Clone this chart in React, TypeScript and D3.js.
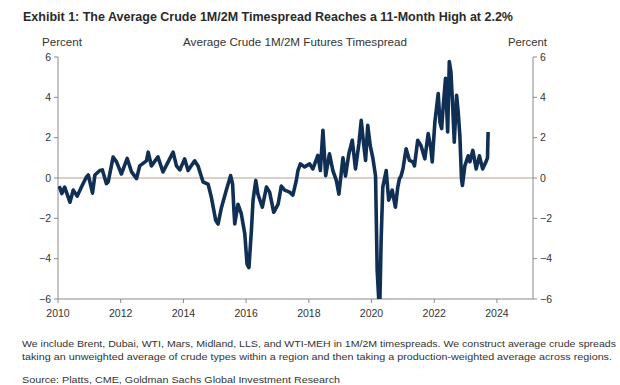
import React from "react";
import * as d3 from "d3";

const dates: string[] = [
  "2010-01-15","2010-02-15","2010-03-20","2010-05-20","2010-06-28","2010-08-12","2010-10-01","2010-11-28","2010-12-20",
  "2011-02-07","2011-03-07","2011-05-03","2011-06-02","2011-07-19","2011-08-08","2011-10-05","2011-11-14",
  "2012-01-10","2012-03-17","2012-05-07","2012-07-04","2012-08-10","2012-10-27","2012-11-17","2012-12-24",
  "2013-03-10","2013-05-08","2013-07-01","2013-09-03","2013-10-12","2013-11-20",
  "2014-01-15","2014-02-24","2014-05-12","2014-06-20","2014-08-18","2014-10-15","2014-11-22",
  "2015-01-12","2015-02-09","2015-03-18","2015-05-16","2015-07-05","2015-07-28","2015-08-12","2015-08-22","2015-09-28","2015-11-06","2015-12-17",
  "2016-01-12","2016-02-03","2016-03-03","2016-03-22","2016-04-23","2016-05-18","2016-07-08","2016-08-25","2016-10-01","2016-11-18",
  "2017-01-08","2017-02-14","2017-03-25","2017-05-22","2017-06-29","2017-08-08","2017-08-27","2017-09-24","2017-11-13",
  "2018-01-10","2018-02-17","2018-04-16","2018-05-15","2018-06-14","2018-07-16","2018-08-29","2018-10-08","2018-11-17","2018-12-17",
  "2019-02-02","2019-03-04","2019-04-12","2019-05-22","2019-06-28","2019-08-07","2019-09-03","2019-10-01","2019-10-24","2019-11-18","2019-12-17",
  "2020-01-16","2020-02-17","2020-03-07","2020-03-25","2020-04-08","2020-04-22","2020-05-11","2020-06-20","2020-07-19","2020-08-29","2020-10-05","2020-11-02","2020-11-21","2020-12-10",
  "2021-01-01","2021-02-07","2021-03-18","2021-04-27","2021-05-15","2021-06-22","2021-07-31","2021-09-13","2021-10-22","2021-11-22","2021-12-08",
  "2022-01-08","2022-02-16","2022-03-08","2022-03-28","2022-04-16","2022-05-12","2022-06-06","2022-06-25","2022-07-14","2022-08-03","2022-08-22","2022-09-18","2022-10-06","2022-10-26","2022-11-14","2022-11-25","2022-12-23",
  "2023-01-31","2023-02-20","2023-03-26","2023-05-04","2023-06-11","2023-07-18","2023-08-26","2023-09-13","2023-09-20",
];

const values: number[] = [
  -0.4,-0.77,-0.45,-1.2,-0.6,-0.9,-0.45,0.05,0.15,
  -0.75,0.15,0.37,0.4,-0.28,-0.2,1.04,0.8,
  0.2,0.97,0.3,-0.03,0.6,0.85,1.28,0.6,
  1.05,0.3,0.75,1.28,0.6,0.4,
  0.95,0.37,0.85,0.6,-0.2,-0.3,-0.95,
  -2.1,-2.28,-1.5,-0.6,0.12,-0.3,-1.6,-2.28,-1.3,-1.77,-2.77,
  -4.27,-4.44,-2.6,-1.1,-0.12,-0.8,-1.45,-0.45,-0.7,-1.7,
  -1.3,-0.4,-0.6,-0.7,-0.85,-0.12,0.37,0.7,0.55,
  0.7,0.45,1.12,0.37,2.37,0.12,1.2,0.37,-0.12,-0.8,
  1.0,0.1,1.2,1.87,0.45,1.7,2.86,1.7,0.87,2.61,1.6,
  1.0,0.1,-4.6,-6.0,-6.0,-3.1,-0.45,0.37,-1.1,-0.6,-1.45,-0.45,-0.04,0.1,
  0.45,1.45,0.87,0.8,0.6,1.87,1.6,0.95,2.2,1.47,0.8,
  2.78,4.19,2.78,2.45,3.6,4.94,2.28,5.77,5.27,3.6,1.78,4.1,3.3,2.1,-0.04,-0.37,0.6,
  1.1,0.8,1.37,0.45,1.1,0.45,0.8,1.0,2.28,
];

const yTicks: number[] = [-6, -4, -2, 0, 2, 4, 6];
const xTickYears: number[] = [2010, 2012, 2014, 2016, 2018, 2020, 2022, 2024];

const titleText = "Exhibit 1: The Average Crude 1M/2M Timespread Reaches a 11-Month High at 2.2%";
const chartTitle = "Average Crude 1M/2M Futures Timespread";
const unitLabel = "Percent";
const note1 = "We include Brent, Dubai, WTI, Mars, Midland, LLS, and WTI-MEH in 1M/2M timespreads. We construct average crude spreads";
const note2 = "taking an unweighted average of crude types within a region and then taking a production-weighted average across regions.";
const sourceText = "Source: Platts, CME, Goldman Sachs Global Investment Research";

export default function App() {
  const W = 620, H = 385;
  const left = 58, right = 533, top = 57, bottom = 299;
  const parse = d3.timeParse("%Y-%m-%d");
  const data = dates.map((d, i) => ({ date: parse(d) as Date, value: values[i] }));
  const x = d3.scaleTime().domain([new Date(2010, 0, 1), new Date(2025, 1, 24)]).range([left, right]);
  const y = d3.scaleLinear().domain([-6, 6]).range([bottom, top]);
  const line = d3.line<{ date: Date; value: number }>().x(d => x(d.date)).y(d => y(d.value));
  const font = "'Liberation Sans', Arial, sans-serif";
  const txt = "#333";
  const axisCol = "#8a8a8a";

  return (
    <svg width={W} height={H} style={{ position: "absolute", left: 0, top: 0, background: "#fff" }} fontFamily={font}>
      <rect width={W} height={H} fill="#fff" />
      <text x={23} y={21} fontSize={12.5} fontWeight="bold" fill="#2a2a2a" textLength={490} lengthAdjust="spacingAndGlyphs">{titleText}</text>
      <text x={42} y={46} fontSize={10.5} fill={txt} textLength={40} lengthAdjust="spacingAndGlyphs">{unitLabel}</text>
      <text x={183} y={46} fontSize={10.5} fill={txt} textLength={224} lengthAdjust="spacingAndGlyphs">{chartTitle}</text>
      <text x={508} y={46} fontSize={10.5} fill={txt} textLength={39} lengthAdjust="spacingAndGlyphs">{unitLabel}</text>

      <defs>
        <clipPath id="plotclip">
          <rect x={left} y={top - 5} width={right - left} height={bottom - top + 5} />
        </clipPath>
      </defs>

      <line x1={left} x2={right} y1={y(0)} y2={y(0)} stroke="#b3a394" strokeWidth={1} />

      <line x1={left} x2={left} y1={top} y2={bottom} stroke={axisCol} strokeWidth={1} />
      <line x1={right} x2={right} y1={top} y2={bottom} stroke={axisCol} strokeWidth={1} />
      <line x1={left} x2={right} y1={bottom} y2={bottom} stroke={axisCol} strokeWidth={1} />

      {yTicks.map(t => (
        <g key={"yt" + t}>
          <line x1={left - 4} x2={left} y1={y(t)} y2={y(t)} stroke={axisCol} />
          <line x1={right} x2={right + 4} y1={y(t)} y2={y(t)} stroke={axisCol} />
          <text x={left - 7} y={y(t) + 3.5} fontSize={10.5} fill={txt} textAnchor="end">{t < 0 ? "\u2212" + Math.abs(t) : String(t)}</text>
          <text x={right + 7} y={y(t) + 3.5} fontSize={10.5} fill={txt} textAnchor="start">{t < 0 ? "\u2212" + Math.abs(t) : String(t)}</text>
        </g>
      ))}

      {xTickYears.map(yr => {
        const xv = x(new Date(yr, 0, 1));
        return (
          <g key={"xt" + yr}>
            <line x1={xv} x2={xv} y1={bottom} y2={bottom + 4} stroke={axisCol} />
            <text x={xv} y={317} fontSize={10.5} fill={txt} textAnchor="middle">{yr}</text>
          </g>
        );
      })}

      <path d={line(data) || ""} fill="none" stroke="#102f55" strokeWidth={3.6} strokeLinejoin="round" clipPath="url(#plotclip)" />

      <text x={22} y={347} fontSize={9.5} fill={txt} textLength={594} lengthAdjust="spacingAndGlyphs">{note1}</text>
      <text x={22} y={360} fontSize={9.5} fill={txt} textLength={590} lengthAdjust="spacingAndGlyphs">{note2}</text>
      <text x={22} y={383} fontSize={9.5} fill={txt} textLength={318} lengthAdjust="spacingAndGlyphs">{sourceText}</text>
    </svg>
  );
}
